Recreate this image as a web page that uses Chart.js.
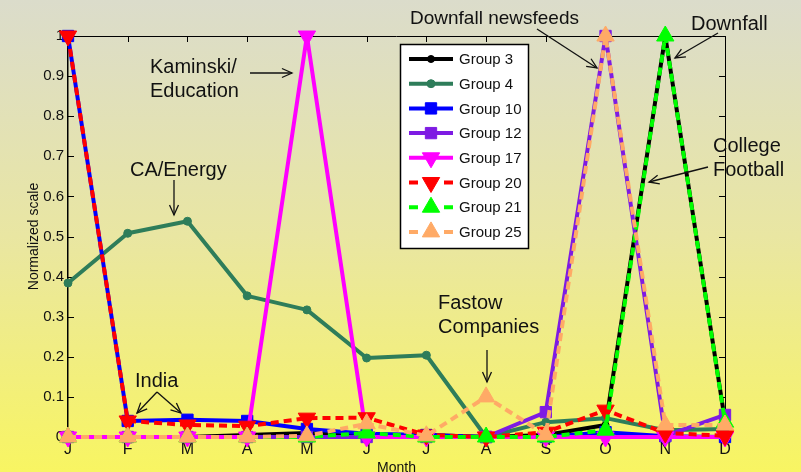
<!DOCTYPE html>
<html><head><meta charset="utf-8">
<script src="https://cdn.jsdelivr.net/npm/chart.js@4.4.1/dist/chart.umd.min.js"></script>
<style>html,body{margin:0;padding:0;overflow:hidden;background:#e8e6a8}
#wrap{width:801px;height:472px}
canvas{display:block}
</style></head><body><div id="wrap"><canvas id="c" width="801" height="472"></canvas></div>
<script>
// ---- data ----
const months = ['J','F','M','A','M','J','J','A','S','O','N','D'];
const groupLabels = ['Group 3','Group 4','Group 10','Group 12','Group 17','Group 20','Group 21','Group 25'];
const group3  = [0, 0, 0, 0.005, 0.01, 0.005, 0.005, 0, 0.005, 0.03, 1, 0.04];
const group4  = [0.384, 0.508, 0.538, 0.352, 0.317, 0.197, 0.204, 0, 0.037, 0.047, 0.017, 0.02];
const group10 = [1, 0.04, 0.043, 0.04, 0.02, 0.008, 0.005, 0, 0, 0.012, 0.002, 0];
const group12 = [0, 0, 0, 0, 0, 0, 0, 0, 0.062, 1, 0.003, 0.055];
const group17 = [0, 0, 0, 0, 1, 0, 0, 0, 0, 0, 0, 0];
const group20 = [1, 0.04, 0.03, 0.027, 0.047, 0.048, 0.005, 0, 0.012, 0.067, 0.01, 0.003];
const group21 = [0, 0, 0, 0, 0, 0.01, 0, 0, 0, 0.017, 1, 0.037];
const group25 = [0, 0, 0, 0, 0.003, 0.033, 0.003, 0.1, 0.005, 1, 0.03, 0.03];
const yTicks = [0, 0.1, 0.2, 0.3, 0.4, 0.5, 0.6, 0.7, 0.8, 0.9, 1];
const yTitle = 'Normalized scale';
const xTitle = 'Month';
// annotations: text lines, text position (px), arrows (px)
const annotations = [
  {lines:['Downfall newsfeeds'], x:410, y:24, size:19, arrows:[[537,29,597,68]]},
  {lines:['Downfall'], x:691, y:30, size:20, arrows:[[718,33,675,58]]},
  {lines:['Kaminski/','Education'], x:150, y:73, size:20, arrows:[[250,73,292,73]]},
  {lines:['CA/Energy'], x:130, y:176, size:20, arrows:[[174,180,174,215]]},
  {lines:['India'], x:135, y:387, size:20, arrows:[[157,392,137,413],[157,392,181,413]]},
  {lines:['Fastow','Companies'], x:438, y:309, size:20, arrows:[[487,350,487,382]]},
  {lines:['College','Football'], x:713, y:152, size:20, arrows:[[708,167,649,182]]}
];

// ---- styles ----
const FONT = '"Liberation Sans", Arial, Helvetica, sans-serif';
const styles = [
  {color:'#000000', dash:[], shape:'circle', r:3.5, rot:0},
  {color:'#2e7d5a', dash:[], shape:'circle', r:4, rot:0},
  {color:'#0000ff', dash:[], shape:'rect', r:8, rot:0},
  {color:'#7e1be3', dash:[], shape:'rect', r:8, rot:0},
  {color:'#ff00ff', dash:[], shape:'triangle', r:10, rot:180},
  {color:'#ff0000', dash:[8,5], shape:'triangle', r:10, rot:180},
  {color:'#00ff00', dash:[8,5], shape:'triangle', r:10, rot:0},
  {color:'#ffaa66', dash:[8,5], shape:'triangle', r:10, rot:0}
];
const seriesValues = [group3, group4, group10, group12, group17, group20, group21, group25];

const datasets = seriesValues.map((vals, i) => {
  const s = styles[i];
  return {
    label: groupLabels[i], data: vals,
    borderColor: s.color, backgroundColor: s.color, borderWidth: 4, borderDash: s.dash,
    borderJoinStyle: 'round', borderCapStyle: 'butt',
    pointStyle: s.shape, pointRadius: s.r, pointHoverRadius: s.r, pointRotation: s.rot,
    pointBackgroundColor: s.color, pointBorderColor: s.color, pointBorderWidth: 1,
    tension: 0, clip: false, order: seriesValues.length - i, fill: false
  };
});

const bgPlugin = {
  id: 'bg',
  beforeDraw(chart) {
    const ctx = chart.ctx, w = chart.width, h = chart.height;
    const g = ctx.createLinearGradient(0, 0, 0, h);
    g.addColorStop(0, '#dbdccb');
    g.addColorStop(0.5, '#e9e6a2');
    g.addColorStop(1, '#f8f562');
    ctx.save(); ctx.fillStyle = g; ctx.fillRect(0, 0, w, h); ctx.restore();
  }
};

const framePlugin = {
  id: 'frame',
  beforeDatasetsDraw(chart) {
    const ctx = chart.ctx, a = chart.chartArea;
    const xs = chart.scales.x, ys = chart.scales.y;
    ctx.save();
    ctx.strokeStyle = '#000'; ctx.lineWidth = 1;
    ctx.beginPath();
    ctx.moveTo(a.left, a.top + 0.5); ctx.lineTo(a.right, a.top + 0.5);
    ctx.moveTo(a.right + 0.5, a.top); ctx.lineTo(a.right + 0.5, a.bottom);
    const L = 6;
    months.forEach((m, i) => {
      const px = Math.round(xs.getPixelForValue(i)) + 0.5;
      ctx.moveTo(px, a.bottom); ctx.lineTo(px, a.bottom - L);
      ctx.moveTo(px, a.top); ctx.lineTo(px, a.top + L);
    });
    yTicks.forEach(v => {
      const py = Math.round(ys.getPixelForValue(v)) + 0.5;
      ctx.moveTo(a.left, py); ctx.lineTo(a.left + L, py);
      ctx.moveTo(a.right, py); ctx.lineTo(a.right - L, py);
    });
    ctx.stroke();
    // axis titles
    ctx.fillStyle = '#111';
    ctx.font = '14px ' + FONT;
    ctx.textAlign = 'center'; ctx.textBaseline = 'alphabetic';
    ctx.fillText(xTitle, (a.left + a.right) / 2, 472);
    ctx.translate(38, (a.top + a.bottom) / 2);
    ctx.rotate(-Math.PI / 2);
    ctx.fillText(yTitle, 0, 0);
    ctx.restore();
  }
};

function arrow(ctx, x1, y1, x2, y2) {
  ctx.beginPath(); ctx.moveTo(x1, y1); ctx.lineTo(x2, y2); ctx.stroke();
  const ang = Math.atan2(y2 - y1, x2 - x1), len = 11, spread = 0.42;
  ctx.beginPath();
  ctx.moveTo(x2 - len * Math.cos(ang - spread), y2 - len * Math.sin(ang - spread));
  ctx.lineTo(x2, y2);
  ctx.lineTo(x2 - len * Math.cos(ang + spread), y2 - len * Math.sin(ang + spread));
  ctx.stroke();
}

const annoPlugin = {
  id: 'anno',
  afterDraw(chart) {
    const ctx = chart.ctx;
    ctx.save();
    ctx.fillStyle = '#111'; ctx.strokeStyle = '#111'; ctx.lineWidth = 1.3;
    ctx.textAlign = 'left'; ctx.textBaseline = 'alphabetic';
    annotations.forEach(an => {
      ctx.font = an.size + 'px ' + FONT;
      an.lines.forEach((t, k) => ctx.fillText(t, an.x, an.y + k * 23.5));
      an.arrows.forEach(ar => arrow(ctx, ar[0], ar[1], ar[2], ar[3]));
    });
    // legend
    const bx = 400, by = 44, bw = 128, bh = 204;
    ctx.fillStyle = '#fff'; ctx.fillRect(bx, by, bw, bh);
    ctx.strokeStyle = '#000'; ctx.lineWidth = 1.5;
    ctx.strokeRect(bx + 0.5, by + 0.5, bw, bh);
    ctx.font = '15px ' + FONT;
    chart.data.datasets.forEach((ds, i) => {
      const y = 59 + i * 24.7;
      const s = styles[i];
      ctx.strokeStyle = ds.borderColor; ctx.lineWidth = 4;
      ctx.beginPath();
      if (s.dash.length) {
        ctx.moveTo(409, y); ctx.lineTo(418, y);
        ctx.moveTo(444, y); ctx.lineTo(453, y);
      } else {
        ctx.moveTo(409, y); ctx.lineTo(453, y);
      }
      ctx.stroke();
      ctx.fillStyle = ds.pointBackgroundColor; ctx.strokeStyle = ds.pointBorderColor; ctx.lineWidth = 1;
      Chart.helpers.drawPoint(ctx, {pointStyle: s.shape, rotation: s.rot, radius: s.r, borderWidth: 1}, 431, y);
      ctx.fillStyle = '#111';
      ctx.textBaseline = 'middle';
      ctx.fillText(ds.label, 459, y + 1);
    });
    ctx.restore();
  }
};

new Chart(document.getElementById('c'), {
  type: 'line',
  data: { labels: months, datasets },
  options: {
    responsive: false, animation: false, maintainAspectRatio: false,
    layout: { padding: { top: 36, right: 76, left: 0, bottom: 0 } },
    plugins: { legend: { display: false }, tooltip: { enabled: false } },
    scales: {
      x: {
        type: 'category', offset: false,
        grid: { display: false, drawTicks: false },
        border: { display: true, color: '#000', width: 1 },
        ticks: { color: '#111', font: { size: 16, family: FONT }, padding: 3, maxRotation: 0, autoSkip: false },
        afterFit(s) { s.height = 35; }
      },
      y: {
        min: 0, max: 1,
        grid: { display: false, drawTicks: false },
        border: { display: true, color: '#000', width: 1.5 },
        afterBuildTicks(s) { s.ticks = yTicks.map(v => ({ value: v })); },
        ticks: { color: '#111', font: { size: 15, family: FONT }, padding: 4,
                 callback: v => String(Math.round(v * 10) / 10) },
        afterFit(s) { s.width = 68; }
      }
    }
  },
  plugins: [bgPlugin, framePlugin, annoPlugin]
});
</script></body></html>
